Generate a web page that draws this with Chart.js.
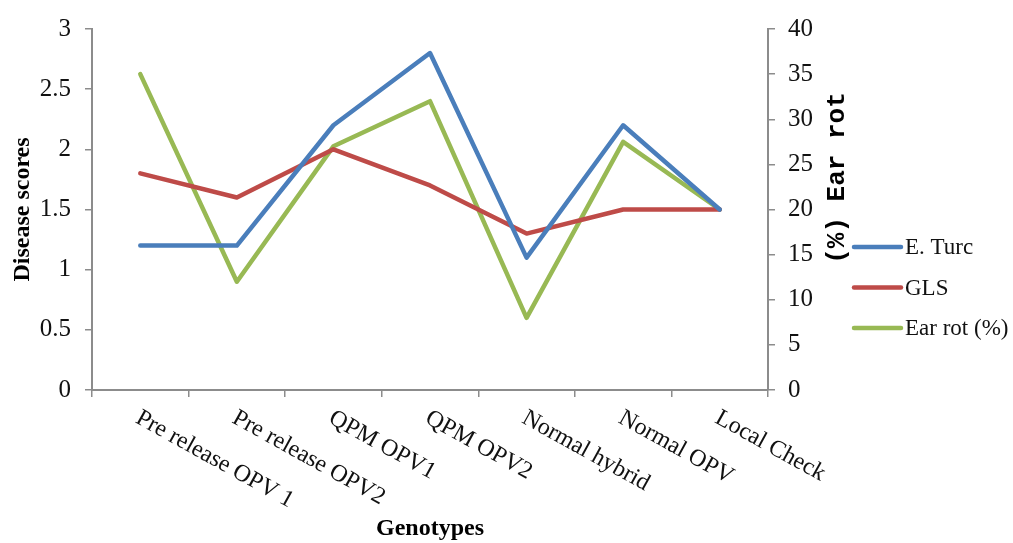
<!DOCTYPE html>
<html>
<head>
<meta charset="utf-8">
<script src="https://cdn.jsdelivr.net/npm/chart.js@4"></script>
<style>
  html, body { margin: 0; padding: 0; background: #fff; }
  #wrap { width: 1013px; height: 543px; }
</style>
</head>
<body>
<div id="wrap"><canvas id="chart" width="1013" height="543"></canvas></div>
<script>
// genotypes on the x axis
const genotypes = ['Pre release OPV 1', 'Pre release OPV2', 'QPM OPV1', 'QPM OPV2', 'Normal hybrid', 'Normal OPV', 'Local Check'];
// disease scores (left axis)
const eTurc = [1.2, 1.2, 2.2, 2.8, 1.1, 2.2, 1.5];
const gls = [1.8, 1.6, 2.0, 1.7, 1.3, 1.5, 1.5];
// ear rot % (right axis)
const earRot = [35, 12, 27, 32, 8, 27.5, 20];

const AXIS_GREY = '#8c8c8c';
const SERIF = '"Liberation Serif", "Times New Roman", serif';

// x labels rotated downwards, right axis title and legend are drawn here
const extras = {
  id: 'extras',
  afterDraw(chart) {
    const ctx = chart.ctx;
    const xs = chart.scales.x;
    ctx.save();
    ctx.fillStyle = '#111';
    ctx.font = '24px ' + SERIF;
    ctx.textAlign = 'left';
    ctx.textBaseline = 'top';
    genotypes.forEach((g, i) => {
      const px = xs.getPixelForValue(i);
      ctx.save();
      ctx.translate(px + 3, xs.top + 16);
      ctx.rotate(Math.PI / 6.2);
      ctx.fillText(g, 0, 0);
      ctx.restore();
    });

    // right axis title
    ctx.save();
    ctx.translate(837, 178);
    ctx.rotate(-Math.PI / 2);
    ctx.font = 'bold 26px "Liberation Mono", monospace';
    ctx.textAlign = 'center';
    ctx.textBaseline = 'middle';
    ctx.fillStyle = '#000';
    ctx.fillText('(%) Ear rot', 0, 0);
    ctx.restore();

    // legend
    ctx.font = '23px ' + SERIF;
    ctx.textBaseline = 'middle';
    ctx.lineCap = 'round';
    chart.data.datasets.forEach((ds, i) => {
      const y = 247 + i * 40.5;
      ctx.strokeStyle = ds.borderColor;
      ctx.lineWidth = 4.5;
      ctx.beginPath();
      ctx.moveTo(854, y);
      ctx.lineTo(901, y);
      ctx.stroke();
      ctx.fillStyle = '#111';
      ctx.fillText(ds.label, 905, y + 1);
    });
    ctx.restore();
  }
};

new Chart(document.getElementById('chart'), {
  type: 'line',
  data: {
    labels: genotypes,
    datasets: [
      { label: 'E. Turc', data: eTurc, yAxisID: 'y', borderColor: '#4A7EBB' },
      { label: 'GLS', data: gls, yAxisID: 'y', borderColor: '#BE4B48' },
      { label: 'Ear rot (%)', data: earRot, yAxisID: 'y1', borderColor: '#98B954' }
    ]
  },
  options: {
    responsive: false,
    animation: false,
    devicePixelRatio: 1,
    layout: { padding: { top: 29, left: 0, right: 0, bottom: 0 } },
    elements: {
      line: { borderWidth: 4.5, tension: 0, borderCapStyle: 'round', borderJoinStyle: 'round', fill: false },
      point: { radius: 0, hoverRadius: 0 }
    },
    plugins: { legend: { display: false }, tooltip: { enabled: false } },
    scales: {
      x: {
        type: 'category',
        offset: true,
        grid: { offset: true, drawOnChartArea: false, tickLength: 7, color: AXIS_GREY, lineWidth: 1.5 },
        border: { color: AXIS_GREY, width: 2 },
        ticks: { display: false },
        title: { display: true, text: 'Genotypes', color: '#000', font: { family: SERIF, size: 24, weight: 'bold' }, padding: { top: 0, bottom: 0 } },
        afterFit(scale) { scale.height = 153; }
      },
      y: {
        position: 'left',
        min: 0, max: 3,
        ticks: { stepSize: 0.5, color: '#111', padding: 14, font: { family: SERIF, size: 25 }, callback: v => String(v) },
        grid: { drawOnChartArea: false, tickLength: 7, color: AXIS_GREY, lineWidth: 1.5 },
        border: { color: AXIS_GREY, width: 2 },
        title: { display: true, text: 'Disease scores', color: '#000', font: { family: SERIF, size: 24, weight: 'bold' }, padding: { top: 8, bottom: 0 } },
        afterFit(scale) { scale.width = 92; }
      },
      y1: {
        position: 'right',
        min: 0, max: 40,
        ticks: { stepSize: 5, color: '#111', padding: 13, font: { family: SERIF, size: 25 }, callback: v => String(v) },
        grid: { drawOnChartArea: false, tickLength: 7, color: AXIS_GREY, lineWidth: 1.5 },
        border: { color: AXIS_GREY, width: 2 },
        afterFit(scale) { scale.width = 245; }
      }
    }
  },
  plugins: [extras]
});
</script>
</body>
</html>
